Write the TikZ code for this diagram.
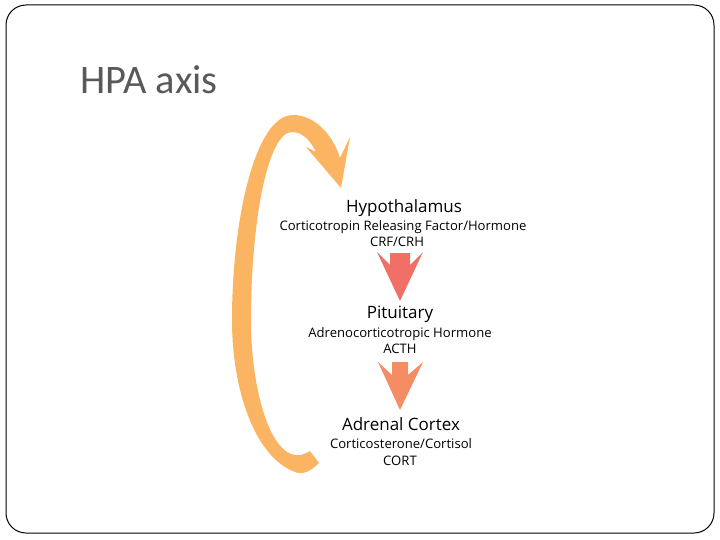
\documentclass[tikz,border=0pt]{standalone}
\usepackage{fontspec}
\usetikzlibrary{calc}
\setmainfont{Open Sans}
\newfontfamily\titlefont{Carlito}
\definecolor{loopc}{RGB}{251,180,98}
\definecolor{arrowa}{RGB}{240,112,104}
\definecolor{arrowb}{RGB}{245,140,100}
\definecolor{titlec}{RGB}{89,89,89}
\begin{document}
\begin{tikzpicture}[x=1pt,y=-1pt,
  frame/.style={draw=black,line width=1pt,rounded corners=20pt},
  headtext/.style={anchor=base,inner sep=0pt,font=\fontsize{17}{17}\selectfont},
  subtext/.style={anchor=base,inner sep=0pt,font=\fontsize{13.1}{13.1}\selectfont},
  titletext/.style={anchor=base west,inner sep=0pt,text=titlec,font=\titlefont\fontsize{40.5}{40.5}\selectfont},
  blockarrow/.style={fill=#1,draw=none}
]
\useasboundingbox (0,0) rectangle (720,540);
\draw[frame] (6,5) rectangle (714,533);
\node[titletext] (title) at (80,94) {HPA axis};

% feedback loop arrow
\fill[loopc] (319,463) .. controls (312,470) and (305,474) .. (298,473)
  .. controls (255,460) and (232,390) .. (232,320)
  .. controls (232,220) and (255,115) .. (293,115)
  .. controls (315,115) and (333,135) .. (340,158)
  -- (350,137) -- (341,188) -- (306,147) -- (316,152)
  .. controls (310,140) and (302,132) .. (292,132)
  .. controls (268,132) and (251,220) .. (251,320)
  .. controls (251,390) and (270,452) .. (295,455)
  .. controls (300,456) and (305,454) .. (310,451) -- cycle;

% texts
\node[headtext] (hyp) at (404,212) {Hypothalamus};
\node[subtext] (crf) at (403,230) {Corticotropin Releasing Factor/Hormone};
\node[subtext] (crh) at (397,247) {CRF/CRH};
\node[headtext] (pit) at (400,318) {Pituitary};
\node[subtext] (acth) at (400,337) {Adrenocorticotropic Hormone};
\node[subtext] (acthab) at (400,353) {ACTH};
\node[headtext] (adr) at (401,430) {Adrenal Cortex};
\node[subtext] (cort) at (401,448) {Corticosterone/Cortisol};
\node[subtext] (cortab) at (400,465) {CORT};

% block arrows
\coordinate (a1) at (400,253);
\coordinate (a2) at (400,362);
\fill[blockarrow=arrowa] ($(a1)+(-10,0)$) -- ($(a1)+(10,0)$) -- ($(a1)+(10,12)$) -- ($(a1)+(23,-1)$) -- ($(a1)+(0,48)$) -- ($(a1)+(-23,-1)$) -- ($(a1)+(-10,12)$) -- cycle;
\fill[blockarrow=arrowb] ($(a2)+(-8,0)$) -- ($(a2)+(8,0)$) -- ($(a2)+(8,13)$) -- ($(a2)+(23,0)$) -- ($(a2)+(0,48)$) -- ($(a2)+(-22,0)$) -- ($(a2)+(-8,13)$) -- cycle;
\end{tikzpicture}
\end{document}
